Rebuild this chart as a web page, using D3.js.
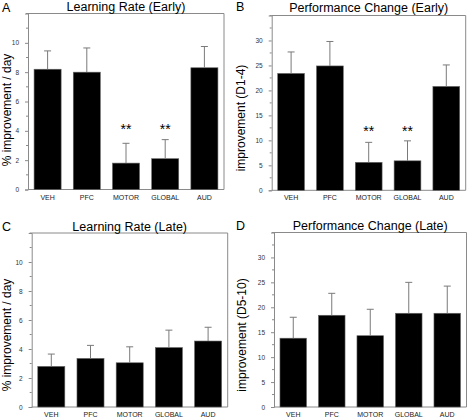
<!DOCTYPE html>
<html><head><meta charset="utf-8">
<script src="https://cdn.jsdelivr.net/npm/d3@7"></script>
<style>body{margin:0;background:#fff}svg{display:block}text{font-family:"Liberation Sans",Arial,Helvetica,sans-serif}</style>
</head><body><svg id="c" width="469" height="420"></svg>
<script>
const categories = ["VEH","PFC","MOTOR","GLOBAL","AUD"];
// Panel A: Learning Rate (Early)
const rateEarly = [8.2, 8.0, 1.8, 2.1, 8.3];
const rateEarlyErr = [9.45, 9.65, 3.15, 3.4, 9.75];
// Panel B: Performance Change (Early)
const perfEarly = [23.4, 24.9, 5.6, 5.9, 20.8];
const perfEarlyErr = [27.7, 29.8, 9.6, 9.9, 25.1];
// Panel C: Learning Rate (Late)
const rateLate = [2.8, 3.35, 3.05, 4.1, 4.55];
const rateLateErr = [3.65, 4.25, 4.15, 5.3, 5.5];
// Panel D: Performance Change (Late)
const perfLate = [13.8, 18.4, 14.3, 18.8, 18.8];
const perfLateErr = [18.0, 22.8, 19.6, 25.0, 24.25];
const sigEarly = ["", "", "**", "**", ""];
const sigLate = ["", "", "", "", ""];
const rateTicks = [0,2,4,6,8,10];
const perfTicks = [0,5,10,15,20,25,30];

const panels = [
  {letter:"A", title:"Learning Rate (Early)", ylab:"% improvement / day", vals:rateEarly, errs:rateEarlyErr, sig:sigEarly,
   x0:28, x1:224, y0:189.5, y1:13.5, max:12, ticks:rateTicks, minor:1, letterX:2, letterY:12, titleY:11, ylabX:10.5, ylabY:110, starY:134},
  {letter:"B", title:"Performance Change (Early)", ylab:"improvement (D1-4)", vals:perfEarly, errs:perfEarlyErr, sig:sigEarly,
   x0:271.7, x1:465.7, y0:190.3, y1:15.5, max:35, ticks:perfTicks, minor:2.5, letterX:236, letterY:11, titleY:12, ylabX:245, ylabY:118, starY:136},
  {letter:"C", title:"Learning Rate (Late)", ylab:"% improvement / day", vals:rateLate, errs:rateLateErr, sig:sigLate,
   x0:31.7, x1:227.7, y0:407, y1:233, max:12, ticks:rateTicks, minor:1, letterX:2, letterY:231, titleY:231, ylabX:10.5, ylabY:335, starY:0},
  {letter:"D", title:"Performance Change (Late)", ylab:"improvement (D5-10)", vals:perfLate, errs:perfLateErr, sig:sigLate,
   x0:274, x1:466.5, y0:407, y1:232.5, max:35, ticks:perfTicks, minor:2.5, letterX:236, letterY:230, titleY:230, ylabX:246, ylabY:335, starY:0}
];

const svg = d3.select("#c");
const axisCol = "#8a8a8a";

panels.forEach(p => {
  const g = svg.append("g");
  const x = d3.scaleBand().domain(categories).range([p.x0, p.x1]).paddingInner(0.31).paddingOuter(0.155);
  const y = d3.scaleLinear().domain([0, p.max]).range([p.y0, p.y1]);

  // box top/right/bottom
  g.append("path").attr("d", `M${p.x0},${y(p.max)}H${p.x1}V${y(0)}H${p.x0}`)
    .attr("fill","none").attr("stroke",axisCol).attr("stroke-width",1);

  // bars
  g.selectAll("rect.bar").data(p.vals).join("rect")
    .attr("x",(d,i)=>x(categories[i])).attr("width",x.bandwidth())
    .attr("y",d=>y(d)).attr("height",d=>y(0)-y(d))
    .attr("fill","#000").attr("stroke","#666").attr("stroke-width",0.6);

  // error bars
  p.errs.forEach((e,i)=>{
    const cx = x(categories[i]) + x.bandwidth()/2;
    g.append("line").attr("x1",cx).attr("x2",cx).attr("y1",y(p.vals[i])).attr("y2",y(e))
      .attr("stroke","#7a7a7a").attr("stroke-width",1);
    g.append("line").attr("x1",cx-3.5).attr("x2",cx+3.5).attr("y1",y(e)).attr("y2",y(e))
      .attr("stroke","#7a7a7a").attr("stroke-width",1);
    if (p.sig[i]) {
      g.append("text").attr("x",cx).attr("y",p.starY).attr("text-anchor","middle")
        .attr("font-size",14).attr("fill","#000").text(p.sig[i]);
    }
  });

  // left axis with major ticks
  const ax = d3.axisLeft(y).tickValues(p.ticks).tickSize(3).tickPadding(6).tickFormat(d3.format("d"));
  const ag = g.append("g").attr("transform",`translate(${p.x0},0)`).call(ax);
  ag.select(".domain").attr("stroke",axisCol);
  ag.selectAll(".tick line").attr("stroke",axisCol);
  ag.selectAll(".tick text").attr("font-size",6.5).attr("fill","#333")
    .attr("font-family",'"Liberation Sans",Arial,sans-serif');
  // minor ticks
  const minors = d3.range(p.minor, p.max + 0.001, p.minor).filter(v => !p.ticks.includes(v));
  g.selectAll("line.minor").data(minors).join("line")
    .attr("x1",p.x0-2).attr("x2",p.x0).attr("y1",d=>y(d)).attr("y2",d=>y(d))
    .attr("stroke",axisCol).attr("stroke-width",1);

  // category labels
  g.selectAll("text.cat").data(categories).join("text")
    .attr("x",d=>x(d)+x.bandwidth()/2).attr("y",p.y0+10)
    .attr("text-anchor","middle").attr("font-size",7).attr("fill","#222").text(d=>d);

  // title, letter, y label
  g.append("text").attr("x",(p.x0+p.x1)/2).attr("y",p.titleY).attr("text-anchor","middle")
    .attr("font-size",12.5).attr("fill","#000").text(p.title);
  g.append("text").attr("x",p.letterX).attr("y",p.letterY)
    .attr("font-size",12.5).attr("fill","#000").text(p.letter);
  g.append("text").attr("transform",`translate(${p.ylabX},${p.ylabY}) rotate(-90)`)
    .attr("text-anchor","middle").attr("font-size",12).attr("fill","#000").text(p.ylab);
});
</script></body></html>
